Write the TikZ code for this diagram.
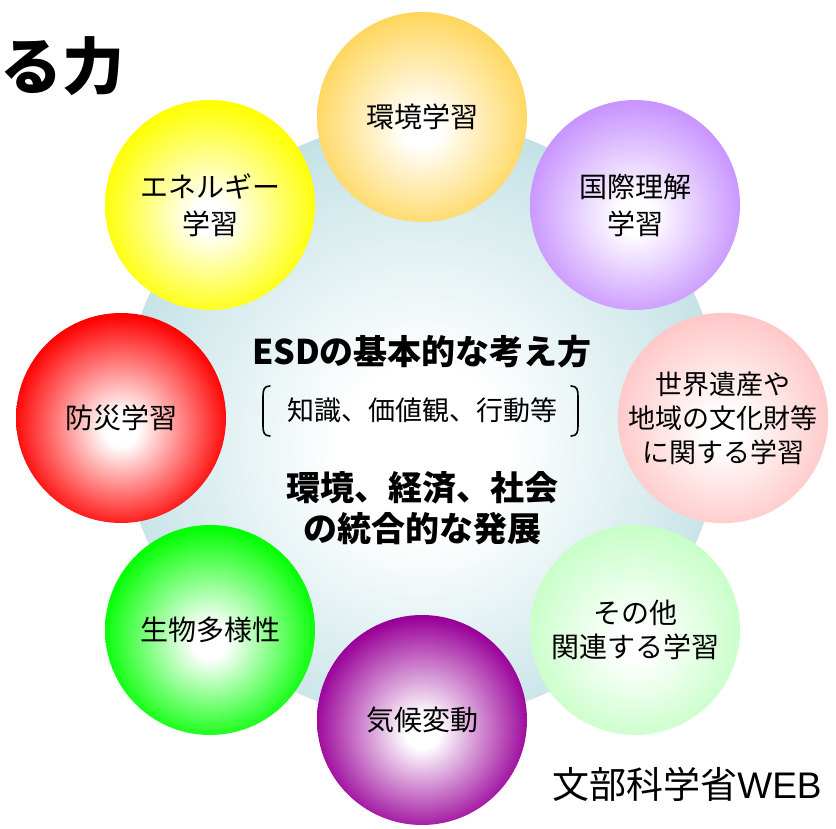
\documentclass[tikz,border=0pt]{standalone}
\usepackage{fontspec}
\setmainfont{Noto Sans CJK JP}
\newfontfamily\latinsans{Liberation Sans}
\definecolor{cBlue}{RGB}{190,223,227}
\definecolor{cOrange}{RGB}{255,215,95}
\definecolor{cLilac}{RGB}{200,148,255}
\definecolor{cPink}{RGB}{255,200,200}
\definecolor{cMint}{RGB}{200,255,200}
\definecolor{cPurple}{RGB}{153,0,153}
\definecolor{cGreen}{RGB}{0,255,0}
\definecolor{cRed}{RGB}{255,0,0}
\definecolor{cYellow}{RGB}{255,255,0}
\pgfdeclareradialshading{shCenter}{\pgfpoint{0bp}{-3bp}}{color(0bp)=(white); color(7bp)=(white); color(28bp)=(cBlue); color(50bp)=(cBlue)}
\newcommand{\makeorb}[2]{\pgfdeclareradialshading{#1}{\pgfpoint{0bp}{-3bp}}{color(0bp)=(white); color(4bp)=(white); color(26bp)=(#2); color(50bp)=(#2)}}
\makeorb{shOrange}{cOrange}
\makeorb{shLilac}{cLilac}
\makeorb{shPink}{cPink}
\makeorb{shMint}{cMint}
\makeorb{shPurple}{cPurple}
\makeorb{shGreen}{cGreen}
\makeorb{shRed}{cRed}
\makeorb{shYellow}{cYellow}
\tikzset{
  orb/.style={circle, minimum size=210, inner sep=0pt, align=center,
    font=\fontsize{28}{37}\selectfont, text=black},
  bigtext/.style={inner sep=0pt, align=center, font=\bfseries\fontsize{34}{41}\selectfont},
  bracketline/.style={line width=1.6pt, line cap=round}
}
\begin{document}
\begin{tikzpicture}[x=1pt, y=-1pt]
\useasboundingbox (0,0) rectangle (836,829);
\fill[white] (0,0) rectangle (836,829);
% central circle
\shade[shading=shCenter] (422,420) circle (300);
% orbit circles
\node[orb, shading=shOrange] (env) at (422,117) {環境学習};
\node[orb, shading=shLilac] (intl) at (635,205) {国際理解\\学習};
\node[orb, shading=shPink, font=\fontsize{27}{34}\selectfont] (herit) at (723,418) {世界遺産や\\地域の文化財等\\に関する学習};
\node[orb, shading=shMint, font=\fontsize{28}{34}\selectfont] (other) at (635,630) {その他\\関連する学習};
\node[orb, shading=shPurple] (clim) at (422,720) {気候変動};
\node[orb, shading=shGreen] (bio) at (210,630) {生物多様性};
\node[orb, shading=shRed] (disas) at (121,418) {防災学習};
\node[orb, shading=shYellow] (energy) at (210,205) {エネルギー\\学習};
% central texts
\node[bigtext] (title) at (422,352) {ESDの基本的な考え方};
\node[inner sep=0pt, font=\fontsize{27}{30}\selectfont] (values) at (422,410) {知識、価値観、行動等};
\draw[bracketline] (270,386) .. controls (264,386) and (263,390) .. (263,396) -- (263,426) .. controls (263,432) and (264,436) .. (270,436);
\draw[bracketline] (571,386) .. controls (577,386) and (578,390) .. (578,396) -- (578,426) .. controls (578,432) and (577,436) .. (571,436);
\node[bigtext] (goal) at (422,508) {環境、経済、社会\\の統合的な発展};
% other texts
\node[anchor=west, inner sep=0pt, font=\bfseries\fontsize{62}{70}\selectfont] (power) at (0,66) {る力};
\node[inner sep=0pt, font=\fontsize{37}{42}\selectfont] (source) at (687,784) {文部科学省{\latinsans WEB}};
\end{tikzpicture}
\end{document}
